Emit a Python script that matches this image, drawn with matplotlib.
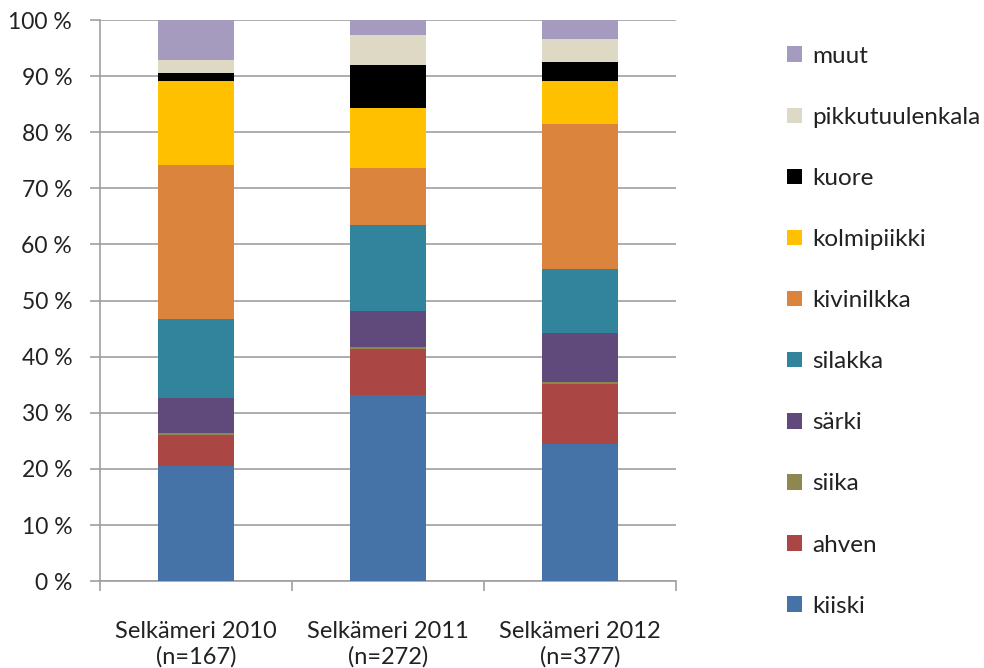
import numpy as np
import matplotlib.pyplot as plt
from matplotlib.patches import Patch
from matplotlib.ticker import FixedLocator

plt.rcParams['font.family'] = ['Lato', 'DejaVu Sans']

# kategoriat ja osuudet (%)
categories = ['Selkämeri 2010\n(n=167)', 'Selkämeri 2011\n(n=272)', 'Selkämeri 2012\n(n=377)']
species = ['kiiski', 'ahven', 'siika', 'särki', 'silakka', 'kivinilkka',
           'kolmipiikki', 'kuore', 'pikkutuulenkala', 'muut']
kiiski = [20.6, 33.2, 24.5]
ahven = [5.5, 8.2, 10.6]
siika = [0.3, 0.4, 0.4]
sarki = [6.3, 6.3, 8.7]
silakka = [14.0, 15.3, 11.4]
kivinilkka = [27.5, 10.3, 25.9]
kolmipiikki = [15.0, 10.7, 7.7]
kuore = [1.4, 7.6, 3.4]
pikkutuulenkala = [2.3, 5.4, 4.0]
muut = [7.1, 2.6, 3.4]

values = [kiiski, ahven, siika, sarki, silakka, kivinilkka,
          kolmipiikki, kuore, pikkutuulenkala, muut]
colors = ['#4572A7', '#AA4643', '#8F8750', '#5F4A7B', '#31849B', '#DB843D',
          '#FFC000', '#000000', '#DDD9C4', '#A59BBF']

fig = plt.figure(figsize=(9.84, 6.68), dpi=100)
ax = fig.add_axes([0.1016, 0.130, 0.5854, 0.840])

x = np.arange(len(categories))
bottom = np.zeros(len(categories))
for name, vals, c in zip(species, values, colors):
    ax.bar(x, vals, 0.4, bottom=bottom, color=c, label=name, zorder=3)
    bottom += np.array(vals)

ax.set_xlim(-0.5, 2.5)
ax.set_ylim(0, 100)
ax.set_yticks(np.arange(0, 101, 10))
ax.set_yticklabels([f'{v} %' for v in range(0, 101, 10)])
ax.yaxis.grid(True, color='#A0A0A0', linewidth=1.2, zorder=0)

ax.set_xticks(x)
ax.set_xticklabels(categories, linespacing=1.2)
ax.xaxis.set_minor_locator(FixedLocator([-0.5, 0.5, 1.5, 2.5]))
ax.tick_params(axis='x', which='major', length=0, pad=29, labelsize=17, colors='#222222')
ax.tick_params(axis='x', which='minor', length=7, color='#A0A0A0', width=1.2)
ax.tick_params(axis='y', length=7, color='#A0A0A0', width=1.2, labelsize=16.5,
               labelcolor='#222222', pad=13)

for s in ['top', 'right']:
    ax.spines[s].set_visible(False)
for s in ['left', 'bottom']:
    ax.spines[s].set_color('#A0A0A0')
    ax.spines[s].set_linewidth(1.2)

handles = [Patch(facecolor=c, label=n) for n, c in zip(species, colors)][::-1]
fig.legend(handles=handles, loc='upper left', bbox_to_anchor=(0.783, 0.957),
           frameon=False, fontsize=17.5, labelspacing=1.65, handlelength=0.6,
           handleheight=0.6, handletextpad=0.4, borderpad=0.2, labelcolor='#222222')

plt.savefig('out.png', dpi=100)
